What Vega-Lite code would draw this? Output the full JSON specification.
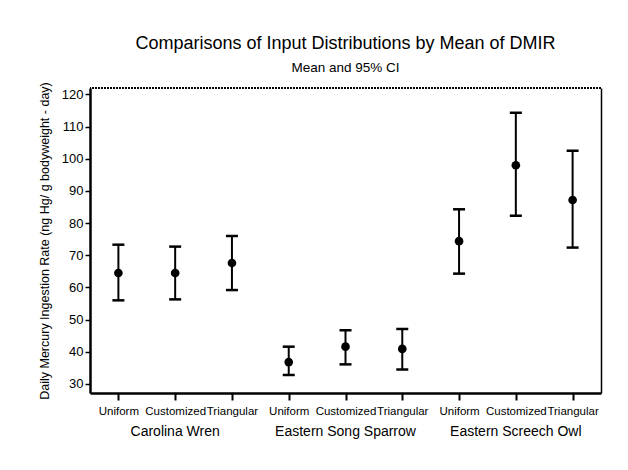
{
  "$schema": "https://vega.github.io/schema/vega-lite/v6.json",
  "width": 511,
  "height": 305,
  "autosize": {"type": "none"},
  "padding": {"left": 90, "top": 88, "right": 27, "bottom": 77},
  "background": "white",
  "title": {
    "text": "Comparisons of Input Distributions by Mean of DMIR",
    "subtitle": "Mean and 95% CI",
    "fontSize": 18,
    "fontWeight": "normal",
    "font": "Liberation Sans",
    "subtitleFont": "Liberation Sans",
    "subtitleFontSize": 13.5,
    "subtitlePadding": 8,
    "offset": 7,
    "color": "black",
    "subtitleColor": "black",
    "anchor": "middle"
  },
  "data": {
    "values": [
      {"species": "Carolina Wren", "dist": "Uniform", "key": "CW|Uniform", "mean": 64.5, "lo": 56.0, "hi": 73.3},
      {"species": "Carolina Wren", "dist": "Customized", "key": "CW|Customized", "mean": 64.5, "lo": 56.3, "hi": 72.7},
      {"species": "Carolina Wren", "dist": "Triangular", "key": "CW|Triangular", "mean": 67.6, "lo": 59.2, "hi": 76.0},
      {"species": "Eastern Song Sparrow", "dist": "Uniform", "key": "ESS|Uniform", "mean": 36.8, "lo": 32.8, "hi": 41.6},
      {"species": "Eastern Song Sparrow", "dist": "Customized", "key": "ESS|Customized", "mean": 41.6, "lo": 36.1, "hi": 46.7},
      {"species": "Eastern Song Sparrow", "dist": "Triangular", "key": "ESS|Triangular", "mean": 40.9, "lo": 34.5, "hi": 47.1},
      {"species": "Eastern Screech Owl", "dist": "Uniform", "key": "ESO|Uniform", "mean": 74.4, "lo": 64.3, "hi": 84.3},
      {"species": "Eastern Screech Owl", "dist": "Customized", "key": "ESO|Customized", "mean": 98.0, "lo": 82.3, "hi": 114.3},
      {"species": "Eastern Screech Owl", "dist": "Triangular", "key": "ESO|Triangular", "mean": 87.2, "lo": 72.4, "hi": 102.5}
    ]
  },
  "layer": [
    {
      "encoding": {
        "x": {
          "field": "key",
          "type": "nominal",
          "sort": null,
          "scale": {"type": "point", "padding": 0.5},
          "axis": {
            "orient": "bottom",
            "title": null,
            "labelAngle": 0,
            "labelExpr": "split(datum.value, '|')[1]",
            "labelFontSize": 11.5,
            "labelPadding": 5,
            "labelOverlap": false,
            "tickSize": 7,
            "tickWidth": 2,
            "domainWidth": 2.5
          }
        }
      },
      "layer": [
        {
          "mark": {"type": "rule", "color": "black", "strokeWidth": 2},
          "encoding": {
            "y": {
              "field": "lo",
              "type": "quantitative",
              "scale": {"domain": [27.2, 122], "nice": false, "zero": false},
              "axis": {
                "orient": "left",
                "title": "Daily Mercury Ingestion Rate (ng Hg/ g bodyweight - day)",
                "titleFontSize": 12.5,
                "titleFontWeight": "normal",
                "titlePadding": 10,
                "values": [30, 40, 50, 60, 70, 80, 90, 100, 110, 120],
                "labelOverlap": false,
                "labelFontSize": 13,
                "labelPadding": 2,
                "tickSize": 5,
                "tickWidth": 1.5,
                "domainWidth": 2.5
              }
            },
            "y2": {"field": "hi"}
          }
        },
        {
          "mark": {"type": "tick", "color": "black", "size": 12, "thickness": 2.5, "opacity": 1},
          "encoding": {
            "y": {
              "field": "lo",
              "type": "quantitative",
              "axis": {
                "orient": "left",
                "title": "Daily Mercury Ingestion Rate (ng Hg/ g bodyweight - day)",
                "titleFontSize": 12.5,
                "titleFontWeight": "normal",
                "titlePadding": 10,
                "values": [30, 40, 50, 60, 70, 80, 90, 100, 110, 120],
                "labelOverlap": false,
                "labelFontSize": 13,
                "labelPadding": 2,
                "tickSize": 5,
                "tickWidth": 1.5,
                "domainWidth": 2.5
              }
            }
          }
        },
        {
          "mark": {"type": "tick", "color": "black", "size": 12, "thickness": 2.5, "opacity": 1},
          "encoding": {
            "y": {
              "field": "hi",
              "type": "quantitative",
              "axis": {
                "orient": "left",
                "title": "Daily Mercury Ingestion Rate (ng Hg/ g bodyweight - day)",
                "titleFontSize": 12.5,
                "titleFontWeight": "normal",
                "titlePadding": 10,
                "values": [30, 40, 50, 60, 70, 80, 90, 100, 110, 120],
                "labelOverlap": false,
                "labelFontSize": 13,
                "labelPadding": 2,
                "tickSize": 5,
                "tickWidth": 1.5,
                "domainWidth": 2.5
              }
            }
          }
        },
        {
          "mark": {"type": "point", "filled": true, "color": "black", "size": 75, "opacity": 1},
          "encoding": {
            "y": {
              "field": "mean",
              "type": "quantitative",
              "axis": {
                "orient": "left",
                "title": "Daily Mercury Ingestion Rate (ng Hg/ g bodyweight - day)",
                "titleFontSize": 12.5,
                "titleFontWeight": "normal",
                "titlePadding": 10,
                "values": [30, 40, 50, 60, 70, 80, 90, 100, 110, 120],
                "labelOverlap": false,
                "labelFontSize": 13,
                "labelPadding": 2,
                "tickSize": 5,
                "tickWidth": 1.5,
                "domainWidth": 2.5
              }
            }
          }
        }
      ]
    },
    {
      "mark": {"type": "point", "opacity": 0},
      "encoding": {
        "x": {
          "field": "species",
          "type": "nominal",
          "sort": null,
          "scale": {"type": "band", "paddingInner": 0, "paddingOuter": 0},
          "axis": {
            "orient": "bottom",
            "title": null,
            "labelAngle": 0,
            "labelFontSize": 14,
            "labelPadding": 31,
            "ticks": false,
            "domain": false
          }
        },
        "y": {
          "field": "mean",
          "type": "quantitative",
          "scale": {"domain": [27.2, 122], "nice": false, "zero": false},
          "axis": null
        }
      }
    },
    {
      "mark": {"type": "rule", "color": "black", "strokeWidth": 1.5, "strokeDash": [2, 1]},
      "encoding": {
        "y": {
          "datum": 122,
          "type": "quantitative",
          "scale": {"domain": [27.2, 122], "nice": false, "zero": false},
          "axis": {
            "orient": "right",
            "title": null,
            "labels": false,
            "ticks": false,
            "domainWidth": 1.5
          }
        }
      }
    }
  ],
  "resolve": {"scale": {"x": "independent", "y": "independent"}},
  "config": {
    "font": "Liberation Sans",
    "view": {"stroke": null},
    "axis": {
      "grid": false,
      "labelColor": "black",
      "titleColor": "black",
      "domainColor": "black",
      "tickColor": "black",
      "labelFont": "Liberation Sans",
      "titleFont": "Liberation Sans"
    }
  }
}
